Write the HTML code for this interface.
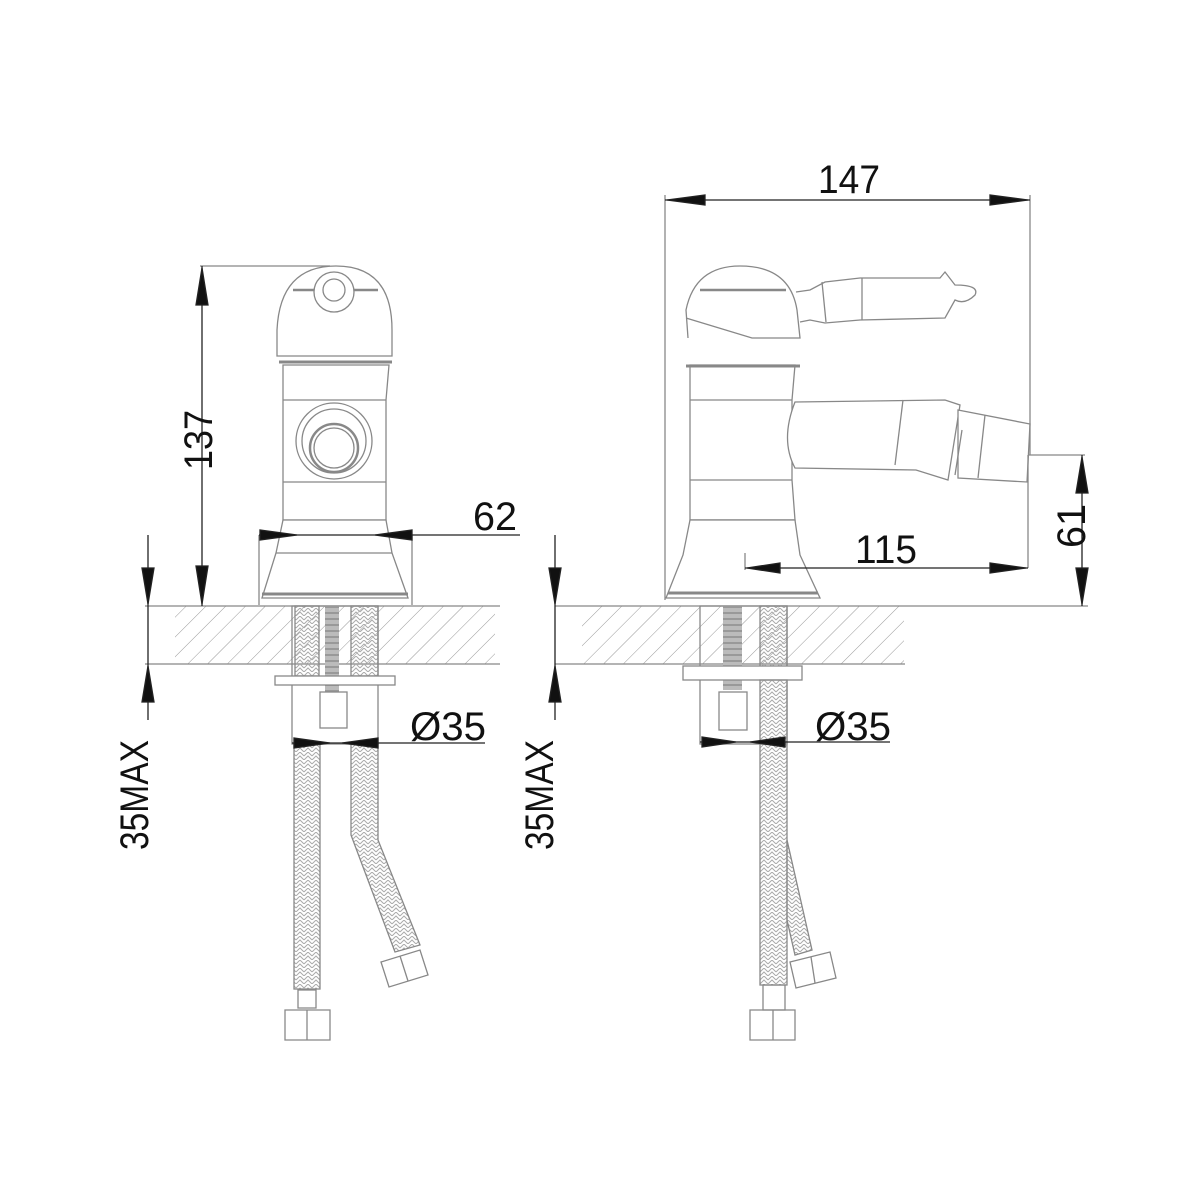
<!DOCTYPE html>
<html><head><meta charset="utf-8"><style>
html,body{margin:0;padding:0;background:#fff}
svg{display:block}
text{font-family:"Liberation Sans",sans-serif;fill:#111}
</style></head><body>
<svg width="1200" height="1200" viewBox="0 0 1200 1200" xmlns="http://www.w3.org/2000/svg">
<defs>
<pattern id="h" width="14" height="14" patternUnits="userSpaceOnUse" patternTransform="rotate(45)">
<line x1="0" y1="0" x2="0" y2="14" stroke="#999" stroke-width="1"/></pattern>
<pattern id="x" width="8" height="8" patternUnits="userSpaceOnUse">
<path d="M0 4 L4 0 L8 4 M0 8 L4 4 L8 8" fill="none" stroke="#aaa" stroke-width="1"/></pattern>
<pattern id="g" width="4" height="6" patternUnits="userSpaceOnUse">
<rect width="4" height="6" fill="#bbb"/><rect y="0" width="4" height="2" fill="#999"/></pattern>
</defs>
<g stroke="#888" stroke-width="1.3" fill="none">
<!-- slabs -->
<rect x="175" y="606" width="320" height="58" fill="url(#h)" stroke="none"/>
<rect x="582" y="606" width="322" height="58" fill="url(#h)" stroke="none"/>
<line x1="145" y1="606" x2="500" y2="606"/><line x1="145" y1="664" x2="500" y2="664"/>
<line x1="555" y1="606" x2="1088" y2="606"/><line x1="555" y1="664" x2="905" y2="664"/>

<!-- LEFT VIEW body -->
<path d="M277 356 L277 330 Q280 266 336 266 Q392 266 392 330 L392 356 Z" fill="#fff"/>
<line x1="293" y1="290" x2="378" y2="290" stroke-width="2.5"/>
<circle cx="334" cy="292" r="20" fill="#fff"/><circle cx="334" cy="290" r="11"/>
<path d="M283 365 L389 365 L386 400 L386 520 L283 520 L283 400 Z" fill="#fff"/>
<line x1="279" y1="362" x2="392" y2="362" stroke-width="3"/>
<line x1="283" y1="400" x2="386" y2="400"/><line x1="283" y1="482" x2="386" y2="482"/>
<circle cx="334" cy="441" r="38"/><circle cx="334" cy="441" r="32"/><circle cx="334" cy="448" r="24" stroke-width="2.5"/><circle cx="334" cy="448" r="20"/>
<path d="M283 520 L386 520 L392 553 L408 598 L262 598 L276 553 Z" fill="#fff"/>
<line x1="276" y1="553" x2="392" y2="553"/>
<line x1="262" y1="594" x2="408" y2="594" stroke-width="3"/>
<line x1="259" y1="535" x2="259" y2="605"/><line x1="412" y1="535" x2="412" y2="605"/>
<!-- left shaft/pipes -->
<rect x="292" y="606" width="86" height="138"/>
<rect x="295" y="606" width="24" height="70" fill="url(#x)"/>
<rect x="351" y="606" width="27" height="70" fill="url(#x)"/>
<rect x="325" y="606" width="14" height="100" fill="url(#g)" stroke="none"/>
<rect x="275" y="676" width="120" height="9" fill="#fff"/>
<rect x="320" y="692" width="27" height="36" fill="#fff"/>
<rect x="294" y="744" width="26" height="245" fill="url(#x)"/>
<path d="M351 744 L378 744 L378 840 L420 945 L395 952 L351 835 Z" fill="url(#x)"/>
<path d="M298 990 L316 990 L316 1008 L298 1008 Z"/>
<path d="M285 1010 L330 1010 L330 1040 L285 1040 Z"/><line x1="307" y1="1010" x2="307" y2="1040"/>
<path d="M381 962 L420 950 L428 975 L389 987 Z"/><line x1="400" y1="956" x2="408" y2="981"/>

<!-- RIGHT VIEW body -->
<path d="M688 338 L686 310 Q695 266 740 266 Q790 266 797 310 L800 338 L752 338 L686 318" fill="#fff"/>
<line x1="700" y1="290" x2="786" y2="290" stroke-width="2.5"/>
<path d="M796 292 L810 290 L825 282 L860 278 L940 278 L945 272 L955 285 Q980 285 975 295 Q965 305 955 300 L945 318 L860 320 L825 323 L810 320 L800 322"/>
<line x1="822" y1="282" x2="826" y2="322"/><line x1="862" y1="278" x2="862" y2="320"/>
<path d="M690 365 L795 365 L792 400 L792 480 L795 520 L690 520 L690 400 Z" fill="#fff"/>
<line x1="686" y1="366" x2="800" y2="366" stroke-width="3"/>
<line x1="690" y1="400" x2="792" y2="400"/><line x1="690" y1="480" x2="792" y2="480"/><line x1="690" y1="520" x2="795" y2="520"/>
<path d="M795 402 L945 400 L960 405 L948 480 L916 470 L795 468 Q780 440 795 402 Z" fill="#fff"/>
<line x1="903" y1="400" x2="895" y2="465"/>
<path d="M958 410 L1030 424 L1027 482 L958 478 Z" fill="#fff"/><line x1="985" y1="415" x2="978" y2="478"/><line x1="962" y1="430" x2="955" y2="475"/>
<path d="M690 520 L795 520 L800 555 L820 598 L666 598 L683 555 Z" fill="#fff"/>
<line x1="668" y1="593" x2="818" y2="593" stroke-width="3"/>
<!-- right shaft -->
<rect x="700" y="606" width="87" height="138"/>
<rect x="723" y="606" width="19" height="84" fill="url(#g)" stroke="none"/>
<rect x="760" y="606" width="27" height="70" fill="url(#x)"/>
<rect x="683" y="666" width="119" height="14" fill="#fff"/>
<rect x="719" y="692" width="28" height="38" fill="#fff"/>
<rect x="760" y="680" width="27" height="305" fill="url(#x)"/>
<path d="M787 840 L812 950 L795 955 L787 920 Z" fill="url(#x)"/>
<path d="M763 985 L785 985 L785 1010 L763 1010 Z"/>
<path d="M750 1010 L795 1010 L795 1040 L750 1040 Z"/><line x1="773" y1="1010" x2="773" y2="1040"/>
<path d="M790 962 L830 952 L836 978 L796 988 Z"/><line x1="811" y1="957" x2="815" y2="983"/>

<!-- dimension ext lines -->
<line x1="200" y1="266" x2="330" y2="266"/>
<line x1="665" y1="195" x2="665" y2="600"/>
<line x1="1030" y1="195" x2="1030" y2="455"/>
<line x1="1028" y1="455" x2="1085" y2="455"/>
<line x1="1028" y1="455" x2="1028" y2="568"/>
<line x1="745" y1="553" x2="745" y2="570"/>
</g>
<!-- dimension lines & arrows -->
<g stroke="#222" stroke-width="1.3" fill="#111">
<line x1="202" y1="266" x2="202" y2="606"/>
<path d="M202 268 L196 305 L208 305 Z"/><path d="M202 604 L196 566 L208 566 Z"/>
<line x1="148" y1="535" x2="148" y2="720"/>
<path d="M148 604 L142 568 L154 568 Z"/><path d="M148 666 L142 702 L154 702 Z"/>
<line x1="555" y1="535" x2="555" y2="720"/>
<path d="M555 604 L549 568 L561 568 Z"/><path d="M555 666 L549 702 L561 702 Z"/>
<line x1="259" y1="535" x2="520" y2="535"/>
<path d="M297 535 L260 530 L260 540 Z"/><path d="M375 535 L412 530 L412 540 Z"/>
<line x1="665" y1="200" x2="1030" y2="200"/>
<path d="M667 200 L705 195 L705 205 Z"/><path d="M1028 200 L990 195 L990 205 Z"/>
<line x1="745" y1="568" x2="1028" y2="568"/>
<path d="M747 568 L780 563 L780 573 Z"/><path d="M1026 568 L990 563 L990 573 Z"/>
<line x1="1082" y1="455" x2="1082" y2="606"/>
<path d="M1082 457 L1076 493 L1088 493 Z"/><path d="M1082 604 L1076 568 L1088 568 Z"/>
<line x1="292" y1="743" x2="485" y2="743"/>
<path d="M330 743 L294 738 L294 748 Z"/><path d="M342 743 L378 738 L378 748 Z"/>
<line x1="700" y1="742" x2="890" y2="742"/>
<path d="M736 742 L702 737 L702 747 Z"/><path d="M750 742 L785 737 L785 747 Z"/>
</g>
<g font-size="40">
<text x="818" y="193" textLength="62" lengthAdjust="spacingAndGlyphs">147</text>
<text x="473" y="530" textLength="44" lengthAdjust="spacingAndGlyphs">62</text>
<text x="855" y="563" textLength="62" lengthAdjust="spacingAndGlyphs">115</text>
<text x="410" y="740" textLength="76" lengthAdjust="spacingAndGlyphs">Ø35</text>
<text x="815" y="740" textLength="76" lengthAdjust="spacingAndGlyphs">Ø35</text>
<text transform="translate(212,470) rotate(-90)" textLength="60" lengthAdjust="spacingAndGlyphs">137</text>
<text transform="translate(1085,548) rotate(-90)" textLength="44" lengthAdjust="spacingAndGlyphs">61</text>
<text transform="translate(148,850) rotate(-90)" textLength="110" lengthAdjust="spacingAndGlyphs">35MAX</text>
<text transform="translate(553,850) rotate(-90)" textLength="110" lengthAdjust="spacingAndGlyphs">35MAX</text>
</g>
</svg>
</body></html>
